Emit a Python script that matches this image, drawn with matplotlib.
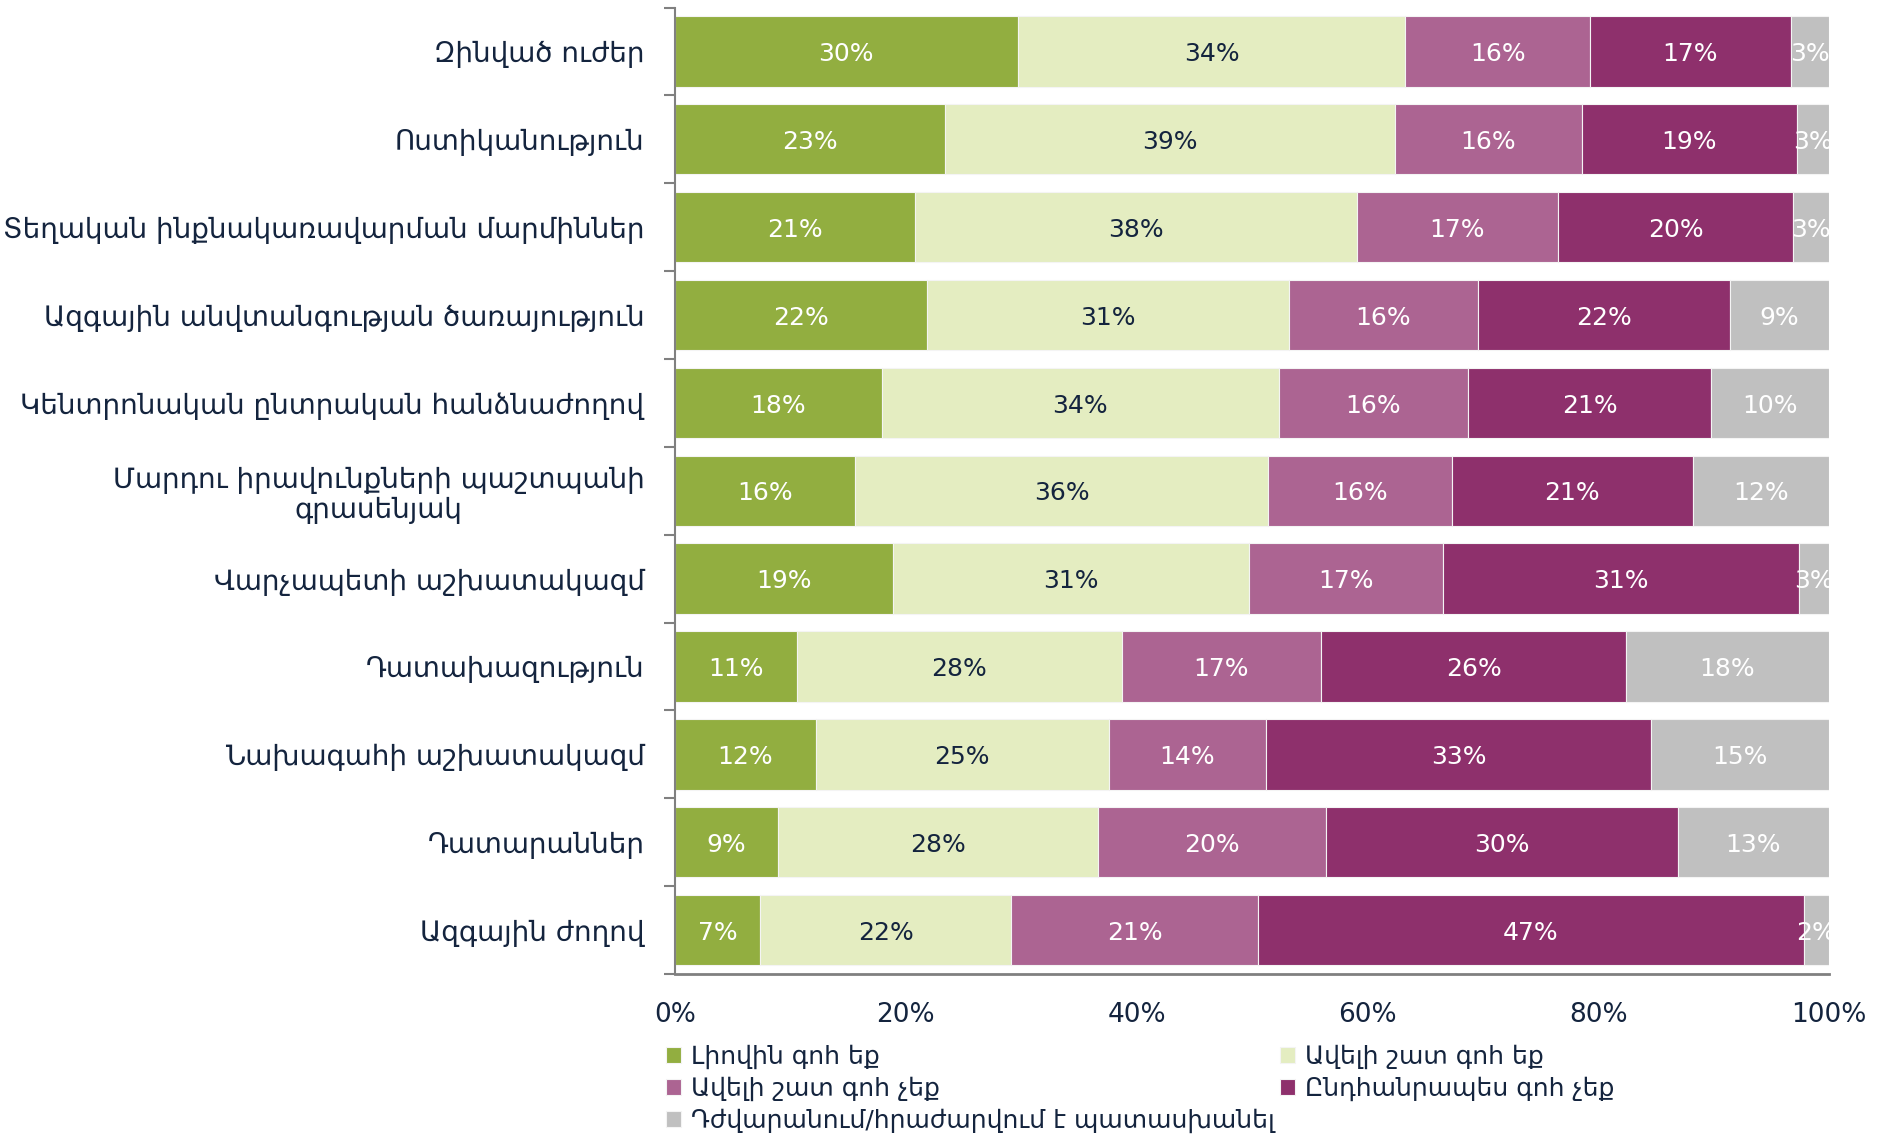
import matplotlib.pyplot as plt
import numpy as np

categories = [
    "Զինված ուժեր",
    "Ոստիկանություն",
    "Տեղական ինքնակառավարման մարմիններ",
    "Ազգային անվտանգության ծառայություն",
    "Կենտրոնական ընտրական հանձնաժողով",
    "Մարդու իրավունքների պաշտպանի\nգրասենյակ",
    "Վարչապետի աշխատակազմ",
    "Դատախազություն",
    "Նախագահի աշխատակազմ",
    "Դատարաններ",
    "Ազգային ժողով",
]

series_names = [
    "Լիովին գոհ եք",
    "Ավելի շատ գոհ եք",
    "Ավելի շատ գոհ չեք",
    "Ընդհանրապես գոհ չեք",
    "Դժվարանում/հրաժարվում է պատասխանել",
]

fully = [29.7, 23.4, 20.8, 21.8, 17.9, 15.6, 18.9, 10.6, 12.2, 8.9, 7.4]
rather = [33.6, 39.0, 38.3, 31.4, 34.4, 35.8, 30.9, 28.1, 25.4, 27.7, 21.7]
rather_not = [16.0, 16.2, 17.4, 16.4, 16.4, 15.9, 16.8, 17.3, 13.6, 19.8, 21.4]
not_at_all = [17.4, 18.6, 20.4, 21.8, 21.1, 20.9, 30.9, 26.4, 33.4, 30.4, 47.2]
no_answer = [3.3, 2.8, 3.1, 8.6, 10.2, 11.8, 2.6, 17.6, 15.4, 13.1, 2.2]

xticks = [0, 20, 40, 60, 80, 100]

colors = ["#92AE40", "#E4EDC1", "#AC6492", "#8E306C", "#C0C0C0"]
text_colors = ["white", "#14243E", "white", "white", "white"]
navy = "#14243E"
axis_gray = "#808080"

data = np.array([fully, rather, rather_not, not_at_all, no_answer])
shares = data / data.sum(axis=0) * 100

fig = plt.figure(figsize=(18.77, 11.40), dpi=100)
ax = fig.add_axes([0.3596, 0.1456, 0.6148, 0.8478])

y = np.arange(len(categories))
left = np.zeros(len(categories))
handles = []
for i in range(5):
    bars = ax.barh(y, shares[i], left=left, height=0.8, color=colors[i],
                   edgecolor="#F4F4F4", linewidth=0.8, label=series_names[i])
    handles.append(bars)
    for j in range(len(categories)):
        ax.text(left[j] + shares[i][j] / 2, y[j] + 0.03, f"{data[i][j]:.0f}%",
                ha="center", va="center", color=text_colors[i], fontsize=18,
                family=["DejaVu Sans"])
    left += shares[i]

ax.set_xlim(0, 100)
ax.set_ylim(len(categories) - 0.5, -0.5)
ax.set_yticks(y)
ax.set_yticklabels(categories, fontsize=20, color=navy, family=["DejaVu Sans"],
                   linespacing=1.1)
ax.set_yticks(np.arange(-0.5, len(categories), 1), minor=True)
ax.tick_params(axis="y", which="major", length=0, pad=22)
ax.tick_params(axis="y", which="minor", length=8, width=1.5, color=axis_gray)
for lab in ax.get_yticklabels():
    lab.set_multialignment("center")

ax.set_xticks(xticks)
ax.set_xticklabels([f"{t}%" for t in xticks], fontsize=19, color=navy)
ax.tick_params(axis="x", length=0, pad=20)

for s in ["top", "right"]:
    ax.spines[s].set_visible(False)
ax.spines["left"].set_color(axis_gray)
ax.spines["bottom"].set_color(axis_gray)
ax.spines["left"].set_linewidth(1.5)
ax.spines["bottom"].set_linewidth(2)

order = [0, 2, 4, 1, 3]
leg = fig.legend([handles[k] for k in order], [series_names[k] for k in order],
                 ncol=2, loc="upper left", bbox_to_anchor=(0.355, 0.084),
                 frameon=False, fontsize=18, handlelength=0.6, handleheight=0.6,
                 handletextpad=0.4, columnspacing=0.2, labelspacing=0.3,
                 borderaxespad=0, borderpad=0)
for t in leg.get_texts():
    t.set_color(navy)

fig.savefig("out.png", dpi=100)
